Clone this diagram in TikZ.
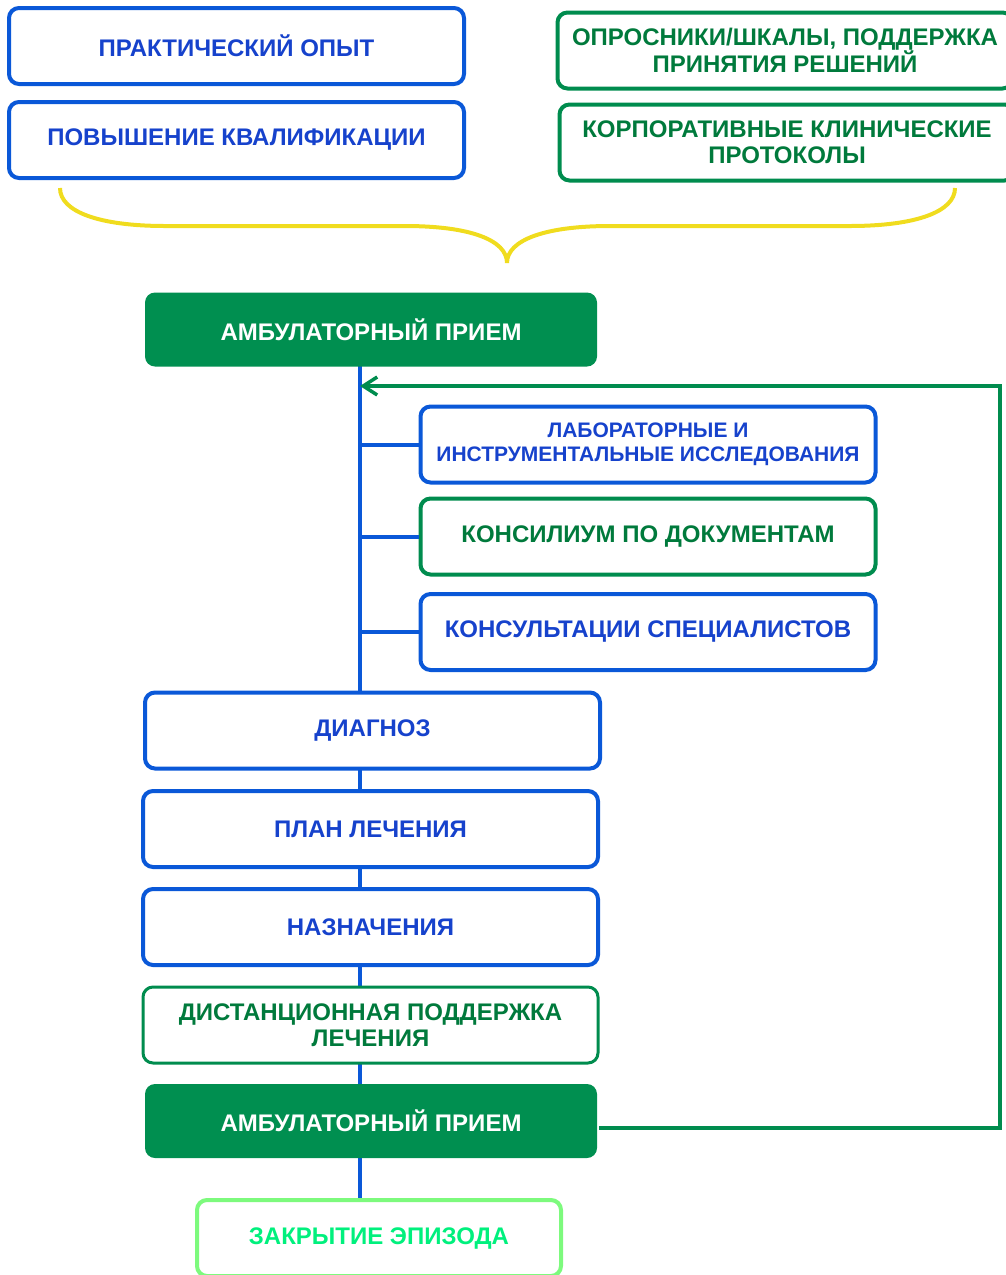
\documentclass[tikz,border=0pt]{standalone}
\usepackage{fontspec}
\setmainfont{Liberation Sans}
\usetikzlibrary{arrows.meta}

\definecolor{blueline}{RGB}{10,88,216}
\definecolor{bluetext}{RGB}{22,66,204}
\definecolor{greenline}{RGB}{0,140,78}
\definecolor{greentext}{RGB}{0,122,60}
\definecolor{greenfill}{RGB}{0,143,80}
\definecolor{lightline}{RGB}{125,250,125}
\definecolor{lighttext}{RGB}{0,240,125}
\definecolor{braceyellow}{RGB}{240,220,30}

\begin{document}
\begin{tikzpicture}[x=1pt, y=-1pt,
    box/.style={rectangle, rounded corners=10pt, line width=4pt, fill=white, minimum width=455pt, minimum height=76pt, align=center, inner sep=0pt, font=\bfseries\fontsize{24}{26}\selectfont},
    bluebox/.style={box, draw=blueline, text=bluetext},
    greenbox/.style={box, draw=greenline, text=greentext},
    mainbox/.style={box, draw=none, fill=greenfill, text=white, minimum width=452pt, minimum height=74pt},
    spine/.style={line width=4pt, draw=blueline},
    loop/.style={line width=3.5pt, draw=greenline},
    brace/.style={line width=4pt, draw=braceyellow}
]
\useasboundingbox (0,0) rectangle (1006,1275);
\clip (0,0) rectangle (1006,1275);

% sources on top
\node[bluebox] (opyt) at (236.5,46) {ПРАКТИЧЕСКИЙ ОПЫТ};
\node[bluebox] (kval) at (236.5,140) {ПОВЫШЕНИЕ КВАЛИФИКАЦИИ};
\node[greenbox] (shkaly) at (785,50.5) {ОПРОСНИКИ/ШКАЛЫ, ПОДДЕРЖКА\\ПРИНЯТИЯ РЕШЕНИЙ};
\node[greenbox] (protok) at (787,142.5) {КОРПОРАТИВНЫЕ КЛИНИЧЕСКИЕ\\ПРОТОКОЛЫ};

\draw[brace] (60,188) .. controls (60,212) and (100,226) .. (165,226) -- (405,226)
    .. controls (470,226) and (507,240) .. (507,263);
\draw[brace] (955,188) .. controls (955,212) and (915,226) .. (850,226) -- (610,226)
    .. controls (545,226) and (507,240) .. (507,263);

% spine
\coordinate (top) at (360,366);
\coordinate (back) at (360,386);
\coordinate (turn) at (1000,386);
\coordinate (bot) at (360,1200);
\draw[spine] (top) -- (bot);

\node[mainbox] (amb1) at (371,329.5) {АМБУЛАТОРНЫЙ ПРИЕМ};

\node[bluebox, font=\bfseries\fontsize{21}{24}\selectfont] (lab) at (648,444.5) {ЛАБОРАТОРНЫЕ И\\ИНСТРУМЕНТАЛЬНЫЕ ИССЛЕДОВАНИЯ};
\node[greenbox] (kons) at (648,536.5) {КОНСИЛИУМ ПО ДОКУМЕНТАМ};
\node[bluebox] (spec) at (648,632) {КОНСУЛЬТАЦИИ СПЕЦИАЛИСТОВ};

\draw[spine] (lab.west -| top) -- (lab.west);
\draw[spine] (kons.west -| top) -- (kons.west);
\draw[spine] (spec.west -| top) -- (spec.west);

\node[bluebox] (diag) at (372.5,730.5) {ДИАГНОЗ};
\node[bluebox] (plan) at (370.5,829) {ПЛАН ЛЕЧЕНИЯ};
\node[bluebox] (nazn) at (370.5,927) {НАЗНАЧЕНИЯ};
\node[greenbox, line width=3pt] (dist) at (370.5,1025) {ДИСТАНЦИОННАЯ ПОДДЕРЖКА\\ЛЕЧЕНИЯ};
\node[mainbox] (amb2) at (371,1121) {АМБУЛАТОРНЫЙ ПРИЕМ};
\node[box, draw=lightline, text=lighttext, minimum width=364pt] (close) at (379,1238) {ЗАКРЫТИЕ ЭПИЗОДА};

% feedback loop
\draw[loop, -{Straight Barb[length=14pt,width=18pt]}] ([yshift=-7pt]amb2.east) -| (turn) -- (back);

\end{tikzpicture}
\end{document}
